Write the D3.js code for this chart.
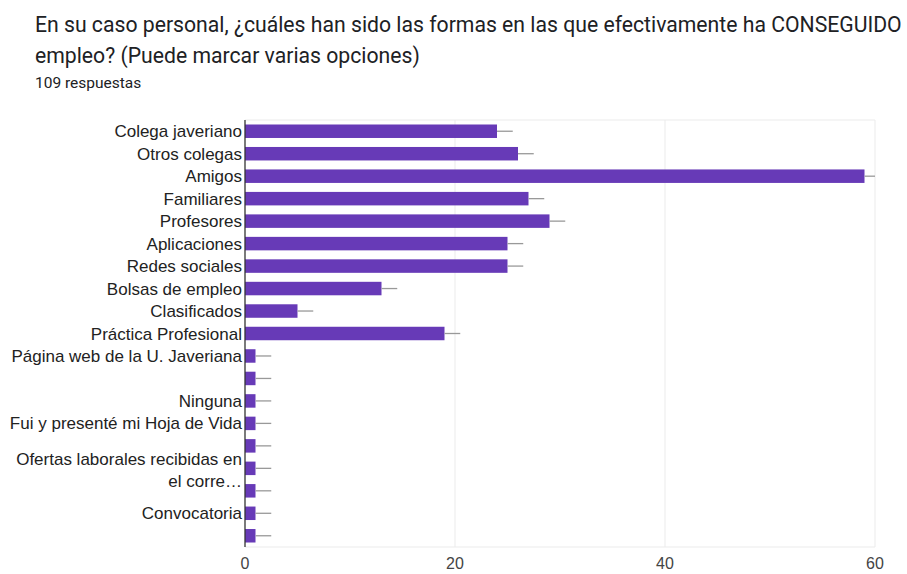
<!DOCTYPE html>
<html>
<head>
<meta charset="utf-8">
<script src="https://cdn.jsdelivr.net/npm/d3@7"></script>
<style>
  body { margin: 0; background: #fff; }
  text { font-family: "Liberation Sans", Arial, sans-serif; }
</style>
</head>
<body>
<div id="chart"></div>
<script>
var w = 907;
var h = 574;

var categories = ["Colega javeriano", "Otros colegas", "Amigos", "Familiares", "Profesores",
  "Aplicaciones", "Redes sociales", "Bolsas de empleo", "Clasificados", "Práctica Profesional",
  "Página web de la U. Javeriana", "", "Ninguna", "Fui y presenté mi Hoja de Vida", "",
  "Ofertas laborales recibidas en el corre…", "", "Convocatoria", ""];
var counts = [24, 26, 59, 27, 29, 25, 25, 13, 5, 19, 1, 1, 1, 1, 1, 1, 1, 1, 1];
var errorSize = 1.5;
var xTicks = [0, 20, 40, 60];

var plotLeft = 245, plotRight = 875, plotTop = 120, plotBottom = 547;

var svg = d3.select("#chart").append("svg")
            .attr("width", w)
            .attr("height", h);

// titles
svg.append("text")
   .attr("x", 35).attr("y", 32)
   .style("font-family", "Roboto")
   .style("font-size", "21.2px")
   .attr("fill", "#202124")
   .text("En su caso personal, ¿cuáles han sido las formas en las que efectivamente ha CONSEGUIDO");
svg.append("text")
   .attr("x", 35).attr("y", 63)
   .style("font-family", "Roboto")
   .style("font-size", "21.2px")
   .attr("fill", "#202124")
   .text("empleo? (Puede marcar varias opciones)");
svg.append("text")
   .attr("x", 35).attr("y", 88)
   .style("font-family", "Roboto")
   .style("font-size", "15.5px")
   .attr("fill", "#202124")
   .text("109 respuestas");

var x = d3.scaleLinear().domain([0, 60]).range([plotLeft, plotRight]);
var y = d3.scaleBand().domain(d3.range(categories.length)).range([plotTop, plotBottom]).paddingInner(0.4).paddingOuter(0.2);

// grid
svg.selectAll("line.grid")
   .data(xTicks.slice(1))
   .enter()
   .append("line")
   .attr("class", "grid")
   .attr("x1", function(d) { return x(d); })
   .attr("x2", function(d) { return x(d); })
   .attr("y1", plotTop)
   .attr("y2", plotBottom)
   .attr("stroke", "#ebebeb")
   .attr("stroke-width", 1);
svg.append("line")
   .attr("x1", plotLeft).attr("x2", plotRight)
   .attr("y1", plotTop).attr("y2", plotTop)
   .attr("stroke", "#ebebeb");
svg.append("line")
   .attr("x1", plotLeft).attr("x2", plotRight)
   .attr("y1", plotBottom).attr("y2", plotBottom)
   .attr("stroke", "#ebebeb");

// bars
svg.selectAll("rect.bar")
   .data(counts)
   .enter()
   .append("rect")
   .attr("class", "bar")
   .attr("x", x(0))
   .attr("y", function(d, i) { return y(i); })
   .attr("width", function(d) { return x(d) - x(0); })
   .attr("height", y.bandwidth())
   .attr("fill", "#673ab7");

// error bars
svg.selectAll("line.err")
   .data(counts)
   .enter()
   .append("line")
   .attr("class", "err")
   .attr("x1", function(d) { return x(d); })
   .attr("x2", function(d) { return Math.min(x(d + errorSize), plotRight); })
   .attr("y1", function(d, i) { return y(i) + y.bandwidth() / 2; })
   .attr("y2", function(d, i) { return y(i) + y.bandwidth() / 2; })
   .attr("stroke", "#999")
   .attr("stroke-width", 1.3);

// zero axis
svg.append("line")
   .attr("x1", plotLeft).attr("x2", plotLeft)
   .attr("y1", plotTop).attr("y2", plotBottom)
   .attr("stroke", "#333")
   .attr("stroke-width", 1.3);

// category labels
var labels = svg.selectAll("text.cat")
   .data(categories)
   .enter()
   .append("text")
   .attr("class", "cat")
   .attr("x", plotLeft - 3)
   .attr("y", function(d, i) { return y(i) + y.bandwidth() / 2 + 6; })
   .attr("text-anchor", "end")
   .style("font-size", "17px")
   .attr("fill", "#222");
labels.each(function(d, i) {
  var t = d3.select(this);
  if (d.indexOf("recibidas en ") > 0) {
    var parts = ["Ofertas laborales recibidas en", "el corre…"];
    t.attr("y", y(i) + y.bandwidth() / 2 - 3);
    t.append("tspan").attr("x", plotLeft - 3).text(parts[0]);
    t.append("tspan").attr("x", plotLeft - 3).attr("dy", 22).text(parts[1]);
  } else {
    t.text(d);
  }
  // keep long labels inside the left edge
  var bw = this.getBBox().width;
  if (bw > plotLeft - 8) t.attr("textLength", plotLeft - 8).attr("lengthAdjust", "spacingAndGlyphs");
});

// x tick labels
svg.selectAll("text.tick")
   .data(xTicks)
   .enter()
   .append("text")
   .attr("class", "tick")
   .attr("x", function(d) { return x(d); })
   .attr("y", 569)
   .attr("text-anchor", "middle")
   .style("font-size", "16px")
   .attr("fill", "#444")
   .text(function(d) { return d; });
</script>
</body>
</html>
